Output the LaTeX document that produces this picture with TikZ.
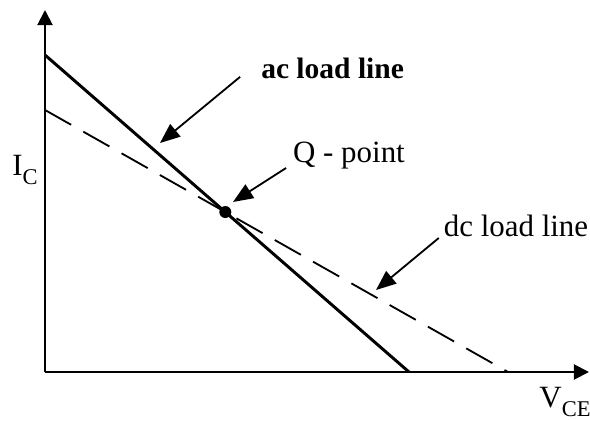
\documentclass[tikz,border=0pt]{standalone}
\usepackage{amsmath}
\usepackage{fontspec}
\setmainfont{Liberation Serif}
\usepackage{tikz}
\usetikzlibrary{positioning,arrows.meta}

\newcommand{\lowsub}[1]{\raisebox{-0.3em}{\fontsize{16}{18}\selectfont #1}}

\begin{document}
\begin{tikzpicture}[every node/.style={font=\fontsize{22}{26}\selectfont, inner sep=2pt},
  axis/.style={line width=1.4pt, -{Triangle[length=3.8mm, width=3.8mm]}},
  acline/.style={line width=2.1pt},
  dcline/.style={line width=1.3pt, dash pattern=on 7.5mm off 3.5mm},
  arr/.style={line width=1.3pt, -{Triangle[length=5mm, width=4mm]}}]
\useasboundingbox (-1.125,-1.2) rectangle (13.625,9.3);
\coordinate (O) at (0,0);
\coordinate (ytop) at (0,9.05);
\coordinate (xend) at (13.6,0);
\coordinate (ac1) at (0,7.925);
\coordinate (ac2) at (9.1,0);
\coordinate (dc1) at (0,6.55);
\coordinate (dc2) at (11.575,0);
\draw[axis] (O) -- (ytop);
\draw[axis] (O) -- (xend);
\draw[acline] (ac1) -- (ac2);
\draw[dcline] (dc1) -- (dc2);
\coordinate (Q) at (intersection of ac1--ac2 and dc1--dc2);
\fill (Q) circle (0.15);
% labels
\node (ic) at (-0.5,5.05) {I\lowsub{C}};
\node (vce) at (13.0,-0.75) {V\lowsub{CE}};
\node[font=\fontsize{21}{25}\selectfont\bfseries] (aclabel) at (7.19,7.58) {ac load line};
\node (qlabel) at (7.6,5.4) {Q - point};
\node (dclabel) at (11.775,3.65) {dc load line};
\coordinate (achead) at (2.875,5.725);
\coordinate (qhead) at (4.7,4.25);
\coordinate (dchead) at (8.275,2.05);
\draw[arr] ([shift={(-0.45,-0.2)}]aclabel.west) -- (achead);
\draw[arr] ([shift={(-0.1,-0.3)}]qlabel.west) -- (qhead);
\draw[arr] ([shift={(-0.05,-0.3)}]dclabel.west) -- (dchead);
\end{tikzpicture}
\end{document}
